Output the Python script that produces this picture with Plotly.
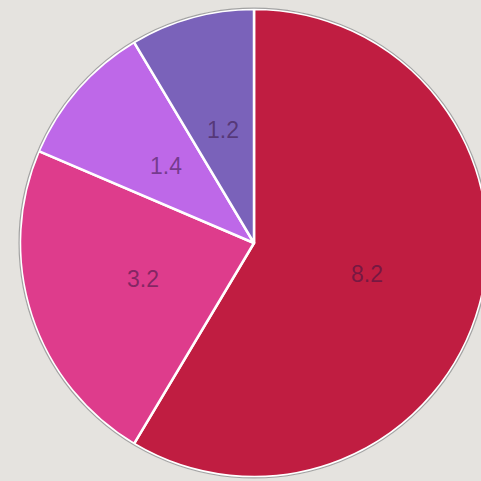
import math
import plotly.graph_objects as go

labels = ["A", "B", "C", "D"]
values = [8.2, 3.2, 1.4, 1.2]
text_labels = ["8.2", "3.2", "1.4", "1.2"]
colors = ["#C01D41", "#DE3C8C", "#BE68E8", "#7A62BA"]

fig = go.Figure(go.Pie(
    labels=labels,
    values=values,
    textinfo="none",
    sort=False,
    direction="clockwise",
    rotation=0,
    marker=dict(colors=colors, line=dict(color="white", width=2.5)),
    domain=dict(x=[0.0, 1.0], y=[0.0, 1.0]),
    showlegend=False,
    hoverinfo="skip",
))

# labels at half radius along each slice's mid angle (paper coords of a square domain)
total = sum(values)
cum = 0.0
for v, t in zip(values, text_labels):
    mid = (cum + v / 2) / total * 2 * math.pi
    cum += v
    fig.add_annotation(
        x=0.5 + 0.25 * math.sin(mid), y=0.5 + 0.25 * math.cos(mid),
        xref="paper", yref="paper", xanchor="center", yanchor="middle",
        text=t, showarrow=False,
        font=dict(family="Liberation Sans, Arial", size=23, color="rgba(55,20,65,0.55)"),
    )

fig.add_shape(type="circle", xref="paper", yref="paper", x0=-0.002, y0=-0.002, x1=1.002, y1=1.002,
              line=dict(color="rgba(140,140,140,0.8)", width=1.2))

fig.update_layout(
    width=495, height=481,
    margin=dict(l=20, r=7, t=9, b=4),
    paper_bgcolor="#E5E3DF",
    plot_bgcolor="#E5E3DF",
)

fig.write_html("out.html", config={"displayModeBar": False},
               post_script="document.body.style.margin='0';document.body.style.overflow='hidden';document.body.style.background='#E5E3DF';")
